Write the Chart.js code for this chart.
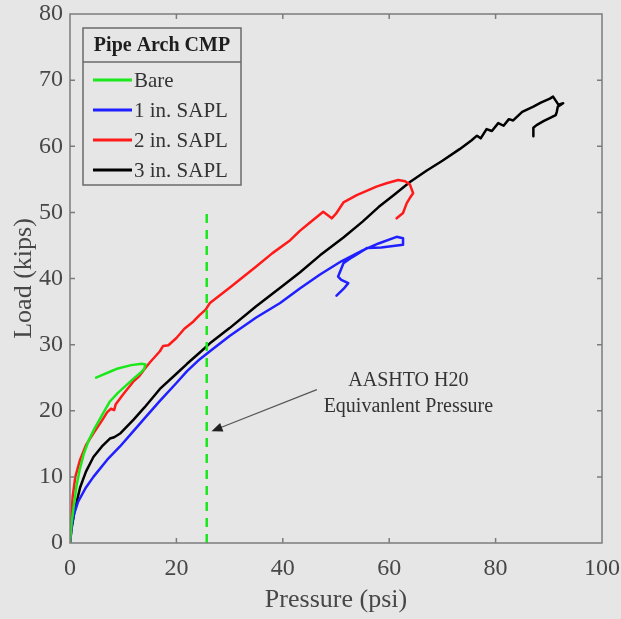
<!DOCTYPE html>
<html>
<head>
<meta charset="utf-8">
<script src="https://cdn.jsdelivr.net/npm/chart.js@4.4.1/dist/chart.umd.min.js"></script>
<style>
  html, body { margin: 0; padding: 0; background: #e6e6e6; }
  #wrap { width: 621px; height: 619px; }
</style>
</head>
<body>
<div id="wrap"><canvas id="loadChart" width="621" height="619"></canvas></div>
<script>
const seriesNames = ['Bare', '1 in. SAPL', '2 in. SAPL', '3 in. SAPL'];

const bareX = [0, 0.3, 0.7, 1.2, 1.8, 2.6, 3.5, 4.6, 6, 7.5, 9, 10.5, 12, 13.2, 13.9, 14.2, 13.5, 11.5, 9, 7.5, 6, 4.9];
const bareY = [0, 3, 5.5, 8.5, 11, 13.5, 15.5, 17.3, 19.3, 21.4, 22.7, 23.8, 24.9, 25.7, 26.3, 27, 27.1, 26.9, 26.4, 25.9, 25.4, 25];

const sapl1X = [0, 0.3, 0.8, 1.5, 3, 4.4, 7, 9.4, 12, 14.5, 16.9, 20, 22, 24.4, 26.3, 30, 35, 39.5, 43.2, 47, 51, 55.1, 58, 61.4, 62.6, 62.6, 58.5, 55.8, 53, 51.4, 50.4, 51, 52.3, 51.5, 50.1];
const sapl1Y = [0, 2.5, 4.5, 6.2, 8.4, 10, 12.6, 14.6, 17, 19.3, 21.5, 24.2, 26, 27.8, 29, 31.3, 34.1, 36.3, 38.5, 40.6, 42.6, 44.3, 45.3, 46.3, 46.1, 45.1, 44.7, 44.6, 43.2, 42.3, 40.3, 39.8, 39.3, 38.5, 37.4];

const sapl2X = [0, 0.2, 0.5, 1, 1.9, 3, 4.4, 6, 7, 7.7, 8.3, 8.6, 10, 12, 13, 13.8, 15, 16.9, 17.5, 18.5, 20, 21.5, 23.2, 24.4, 25.5, 26.3, 30, 35, 38, 41.4, 43.2, 45, 47.6, 49.2, 50, 51.4, 53.9, 57.6, 59.5, 61.7, 63, 63.9, 64.5, 63.9, 63.3, 62.6, 61.4];
const sapl2Y = [0, 3, 7, 10, 12.6, 14.8, 16.6, 18.5, 19.8, 20.3, 20.1, 21, 22.5, 24.5, 25.2, 26.1, 27.3, 29, 29.8, 29.9, 31, 32.4, 33.5, 34.5, 35.3, 36.3, 38.6, 41.8, 43.8, 45.8, 47.2, 48.4, 50.1, 49.1, 49.8, 51.5, 52.6, 53.9, 54.4, 54.9, 54.7, 54.2, 52.9, 52.2, 51.4, 49.9, 49.1];

const sapl3X = [0, 0.3, 0.8, 1.9, 3, 4.4, 6, 7.5, 8.3, 9.5, 12, 14, 16.9, 20, 22, 24.4, 26.3, 30, 35, 40, 43.2, 47, 51.4, 55, 58, 61, 63.9, 67, 70, 73.3, 75.5, 76.5, 77.2, 78.3, 79.3, 80.5, 81.5, 82.5, 83.3, 85, 87.1, 88.5, 90.2, 90.8, 91.3, 91.8, 92.7, 91.7, 91.5, 91.3, 89, 87.7, 87.1, 87.1];
const sapl3Y = [0, 2.2, 4.6, 8.4, 10.8, 13, 14.6, 15.8, 16, 16.6, 18.7, 20.5, 23.3, 25.6, 27.1, 28.8, 30.2, 32.5, 35.8, 38.9, 40.9, 43.5, 46.2, 48.6, 50.8, 52.7, 54.6, 56.3, 57.8, 59.6, 60.9, 61.6, 61.2, 62.6, 62.3, 63.5, 63.1, 64.1, 63.9, 65.2, 66, 66.6, 67.2, 67.5, 66.9, 66.3, 66.5, 66, 65.2, 64.7, 63.8, 63.2, 62.8, 61.5];

const h20Pressure = 25.7;
const h20LoadRange = [0, 50];

const xTicks = [0, 20, 40, 60, 80, 100];
const yTicks = [0, 10, 20, 30, 40, 50, 60, 70, 80];

const legendTitle = 'Pipe Arch CMP';
const noteLines = ['AASHTO H20', 'Equivanlent Pressure'];
const noteAt = [63.6, 24.6, 20.6];
const arrowFrom = [46.4, 23.2];
const arrowTo = [26.6, 16.9];

const COLORS = ['#1be81b', '#1f1fff', '#ff1a1a', '#000000'];
const FONT = '"Liberation Serif", "Times New Roman", serif';
const TEXT = '#474747';

function pts(xs, ys) {
  return xs.map((x, i) => ({ x, y: ys[i] }));
}

const framePlugin = {
  id: 'frame',
  afterDatasetsDraw(chart) {
    const { ctx, chartArea: a, scales: { x, y } } = chart;
    ctx.save();
    // axes box, ticks point inward on all four sides
    ctx.strokeStyle = '#7c7c7c';
    ctx.lineWidth = 1.5;
    ctx.strokeRect(a.left, a.top, a.right - a.left, a.bottom - a.top);
    ctx.beginPath();
    xTicks.slice(1, -1).forEach(v => {
      const px = x.getPixelForValue(v);
      ctx.moveTo(px, a.bottom); ctx.lineTo(px, a.bottom - 5);
      ctx.moveTo(px, a.top); ctx.lineTo(px, a.top + 5);
    });
    yTicks.slice(1, -1).forEach(v => {
      const py = y.getPixelForValue(v);
      ctx.moveTo(a.left, py); ctx.lineTo(a.left + 5, py);
      ctx.moveTo(a.right, py); ctx.lineTo(a.right - 5, py);
    });
    ctx.stroke();

    // arrow to the H20 line
    const x0 = x.getPixelForValue(arrowFrom[0]), y0 = y.getPixelForValue(arrowFrom[1]);
    const x1 = x.getPixelForValue(arrowTo[0]), y1 = y.getPixelForValue(arrowTo[1]);
    const ang = Math.atan2(y1 - y0, x1 - x0);
    ctx.strokeStyle = '#555';
    ctx.fillStyle = '#222';
    ctx.lineWidth = 1.2;
    ctx.beginPath();
    ctx.moveTo(x0, y0);
    ctx.lineTo(x1 - 8 * Math.cos(ang), y1 - 8 * Math.sin(ang));
    ctx.stroke();
    ctx.beginPath();
    ctx.moveTo(x1, y1);
    ctx.lineTo(x1 - 11 * Math.cos(ang) + 4.5 * Math.sin(ang), y1 - 11 * Math.sin(ang) - 4.5 * Math.cos(ang));
    ctx.lineTo(x1 - 11 * Math.cos(ang) - 4.5 * Math.sin(ang), y1 - 11 * Math.sin(ang) + 4.5 * Math.cos(ang));
    ctx.closePath();
    ctx.fill();

    ctx.fillStyle = '#333';
    ctx.font = '20px ' + FONT;
    ctx.textAlign = 'center';
    ctx.textBaseline = 'middle';
    const nx = x.getPixelForValue(noteAt[0]);
    ctx.fillText(noteLines[0], nx, y.getPixelForValue(noteAt[1]));
    ctx.fillText(noteLines[1], nx, y.getPixelForValue(noteAt[2]));

    // legend box
    const lx = a.left + 13, ly = a.top + 14, lw = 158, lh = 157;
    ctx.fillStyle = '#e6e6e6';
    ctx.fillRect(lx, ly, lw, lh);
    ctx.strokeStyle = '#6a6a6a';
    ctx.lineWidth = 1.5;
    ctx.strokeRect(lx, ly, lw, lh);
    ctx.beginPath();
    ctx.moveTo(lx, ly + 34);
    ctx.lineTo(lx + lw, ly + 34);
    ctx.stroke();
    ctx.fillStyle = '#1e1e1e';
    ctx.font = 'bold 20px ' + FONT;
    ctx.fillText(legendTitle, lx + lw / 2, ly + 18);
    ctx.font = '21px ' + FONT;
    ctx.textAlign = 'left';
    seriesNames.forEach((name, i) => {
      const ey = ly + 52 + i * 30;
      ctx.strokeStyle = COLORS[i];
      ctx.lineWidth = 3;
      ctx.beginPath();
      ctx.moveTo(lx + 10, ey);
      ctx.lineTo(lx + 49, ey);
      ctx.stroke();
      ctx.fillStyle = '#333';
      ctx.fillText(name, lx + 51, ey + 1);
    });
    ctx.restore();
  }
};

const lineDefaults = {
  showLine: true,
  pointRadius: 0,
  borderWidth: 2.5,
  borderJoinStyle: 'round',
  borderCapStyle: 'round',
  tension: 0,
  fill: false
};

new Chart(document.getElementById('loadChart'), {
  type: 'scatter',
  data: {
    datasets: [
      { ...lineDefaults, label: 'AASHTO H20', data: pts([h20Pressure, h20Pressure], h20LoadRange), borderColor: COLORS[0], borderDash: [9, 7], borderCapStyle: 'butt' },
      { ...lineDefaults, label: seriesNames[0], data: pts(bareX, bareY), borderColor: COLORS[0] },
      { ...lineDefaults, label: seriesNames[1], data: pts(sapl1X, sapl1Y), borderColor: COLORS[1] },
      { ...lineDefaults, label: seriesNames[2], data: pts(sapl2X, sapl2Y), borderColor: COLORS[2] },
      { ...lineDefaults, label: seriesNames[3], data: pts(sapl3X, sapl3Y), borderColor: COLORS[3] }
    ]
  },
  options: {
    responsive: false,
    animation: false,
    layout: { padding: { top: 14, right: 19, left: 0, bottom: 0 } },
    plugins: { legend: { display: false }, tooltip: { enabled: false } },
    scales: {
      x: {
        type: 'linear',
        min: 0,
        max: 100,
        grid: { display: false, drawTicks: false },
        border: { display: false },
        afterBuildTicks: s => { s.ticks = xTicks.map(v => ({ value: v })); },
        afterFit: s => { s.height = 76; s.paddingLeft = 0; s.paddingRight = 0; },
        ticks: { color: TEXT, font: { family: FONT, size: 24 }, padding: 11, maxRotation: 0 },
        title: { display: true, text: 'Pressure (psi)', color: TEXT, font: { family: FONT, size: 26 }, padding: { top: 0, bottom: 3 } }
      },
      y: {
        type: 'linear',
        min: 0,
        max: 80,
        grid: { display: false, drawTicks: false },
        border: { display: false },
        afterBuildTicks: s => { s.ticks = yTicks.map(v => ({ value: v })); },
        afterFit: s => { s.width = 70; s.paddingTop = 0; s.paddingBottom = 0; },
        ticks: { color: TEXT, font: { family: FONT, size: 24 }, padding: 7 },
        title: { display: true, text: 'Load (kips)', color: TEXT, font: { family: FONT, size: 26 }, padding: { top: 9, bottom: 0 } }
      }
    }
  },
  plugins: [framePlugin]
});
</script>
</body>
</html>
